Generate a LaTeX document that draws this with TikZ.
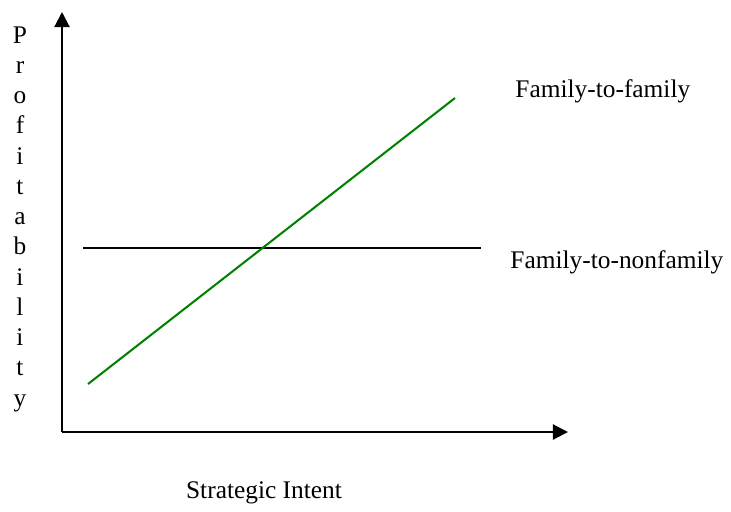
\documentclass[tikz,border=0pt]{standalone}
\usepackage{fontspec}
\setmainfont{Liberation Serif}
\usetikzlibrary{arrows.meta}

\definecolor{linegreen}{RGB}{0,128,0}

\tikzset{
  axis/.style={line width=0.95pt, -{Triangle[length=7pt,width=7pt]}},
  label/.style={font=\fontsize{11.8}{14}\selectfont, inner sep=0pt}
}

\begin{document}
\begin{tikzpicture}[x=0.465pt, y=-0.465pt]

\useasboundingbox (0,0) rectangle (731,511);

% ---------- axes ----------
\coordinate (origin) at (62,432);
\coordinate (ytip) at (62,12);
\coordinate (xtip) at (568,432);
\draw[axis] (origin) -- (ytip);
\draw[axis] (origin) -- (xtip);

\node[label, anchor=base] (xlabel) at (264,498) {Strategic Intent};

\foreach \ch [count=\i from 0] in {P,r,o,f,i,t,a,b,i,l,i,t,y}
  \node[label, anchor=base] (ylabel\i) at (20,43+30.25*\i) {\ch};

% ---------- lines ----------
\coordinate (nonfam-a) at (83,248);
\coordinate (nonfam-b) at (481,248);
\draw[line width=0.95pt] (nonfam-a) -- (nonfam-b);

\coordinate (fam-a) at (88,384);
\coordinate (fam-b) at (455,98);
\draw[linegreen, line width=0.95pt] (fam-a) -- (fam-b);

\node[label, anchor=base west] (famlabel) at (515,97) {Family-to-family};
\node[label, anchor=base west] (nonfamlabel) at (510,268) {Family-to-nonfamily};

\end{tikzpicture}
\end{document}
